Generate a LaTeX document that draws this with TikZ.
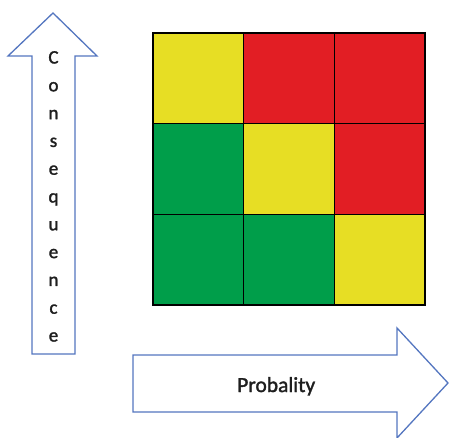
\documentclass[tikz,border=0pt]{standalone}
\usepackage{fontspec}
\setmainfont{Carlito}
\newfontfamily\axisfont[FakeBold=1.6]{Carlito}
\definecolor{riskyellow}{RGB}{231,222,36}
\definecolor{riskred}{RGB}{226,30,36}
\definecolor{riskgreen}{RGB}{0,158,74}
\definecolor{arrowblue}{RGB}{84,118,192}
\definecolor{labelgray}{RGB}{30,30,30}
\tikzset{
  cellborder/.style={draw=black, line width=1.5pt},
  blockarrow/.style={draw=arrowblue, fill=white, line width=1.3pt, line join=miter},
  axislabel/.style={text=labelgray, inner sep=0pt},
}
\begin{document}
\begin{tikzpicture}[x=1pt, y=-1pt]
  \useasboundingbox (0,0) rectangle (449,438);

  % risk matrix: rows from top, columns from left
  \foreach \col/\row/\clr in {0/0/riskyellow, 1/0/riskred, 2/0/riskred,
                              0/1/riskgreen, 1/1/riskyellow, 2/1/riskred,
                              0/2/riskgreen, 1/2/riskgreen, 2/2/riskyellow} {
    \fill[\clr] ({153+90.67*\col}, {33+90.67*\row}) rectangle ++(90.67, 90.67);
  }
  % cell borders, drawn after all fills so every line keeps its full width
  \foreach \col in {0,1,2} {
    \foreach \row in {0,1,2} {
      \draw[cellborder] ({153+90.67*\col}, {33+90.67*\row}) rectangle ++(90.67, 90.67);
    }
  }

  % vertical block arrow (consequence axis)
  \draw[blockarrow] (53,13) -- (97,56) -- (75,56) -- (75,354) -- (32,354)
    -- (32,56) -- (8,56) -- cycle;
  \foreach \ch [count=\i from 0] in {C,o,n,s,e,q,u,e,n,c,e} {
    \node[axislabel, anchor=base, font=\axisfont\fontsize{19}{21}\selectfont]
      (conseq\i) at (53.5, {63.5+27.8*\i}) {\ch};
  }

  % horizontal block arrow (probability axis)
  \draw[blockarrow] (133,355) -- (397,355) -- (397,328) -- (448,383)
    -- (397,438) -- (397,412) -- (133,412) -- cycle;
  \node[axislabel, anchor=base west, font=\axisfont\fontsize{21.5}{24}\selectfont]
    (prob) at (237,392) {Probality};
\end{tikzpicture}
\end{document}
